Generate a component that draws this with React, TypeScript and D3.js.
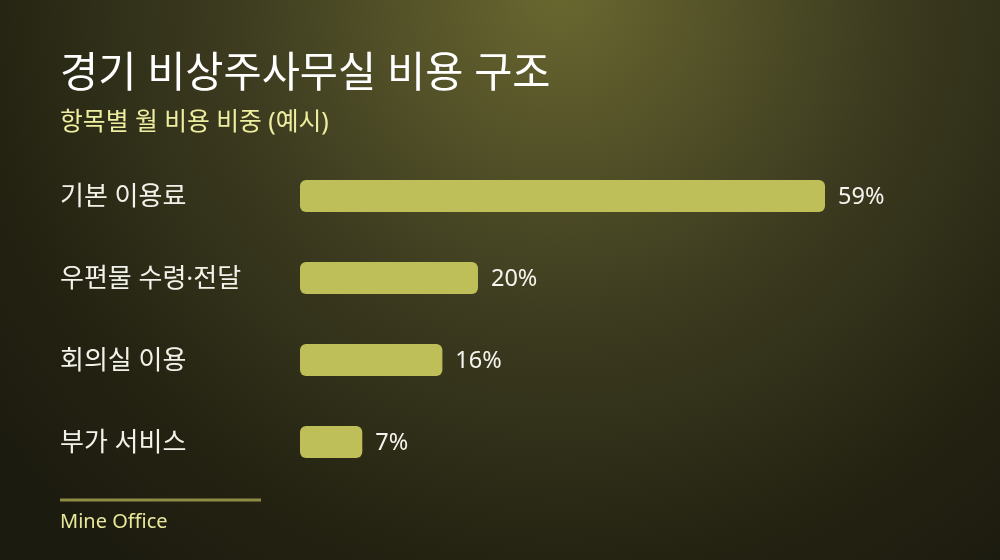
import React from "react";
import * as d3 from "d3";

const categories = ["기본 이용료", "우편물 수령·전달", "회의실 이용", "부가 서비스"];
const values = [59, 20, 16, 7];
const valueLabels = ["59%", "20%", "16%", "7%"];
const title = "경기 비상주사무실 비용 구조";
const subtitle = "항목별 월 비용 비중 (예시)";
const source = "Mine Office";

const W = 1000;
const H = 560;
const FONT = "'Noto Sans', 'Noto Sans CJK KR', sans-serif";

export default function App() {
  const x = d3.scaleLinear().domain([0, d3.max(values) as number]).range([300, 825]);
  const y = d3
    .scaleBand<string>()
    .domain(categories)
    .range([180, 180 + 82 * 4 - 50])
    .paddingInner(50 / 82)
    .paddingOuter(0);

  return (
    <svg
      width={W}
      height={H}
      viewBox={`0 0 ${W} ${H}`}
      style={{ position: "fixed", left: 0, top: 0, display: "block" }}
    >
      <defs>
        <radialGradient id="bg" cx="560" cy="-10" r="720" gradientUnits="userSpaceOnUse">
          <stop offset="0" stopColor="#6a6830" />
          <stop offset="0.45" stopColor="#3d3c20" />
          <stop offset="0.8" stopColor="#242312" />
          <stop offset="1" stopColor="#1c1b0f" />
        </radialGradient>
      </defs>
      <rect x={0} y={0} width={W} height={H} fill="url(#bg)" />

      <text x={60} y={87} fill="#ffffff" fontFamily={FONT} fontSize={41.5} fontWeight={400}>
        {title}
      </text>
      <text x={60} y={130} fill="#eeeea0" fontFamily={FONT} fontSize={24.8}>
        {subtitle}
      </text>

      {categories.map((c, i) => {
        const by = y(c) as number;
        const bh = y.bandwidth();
        const cy = by + bh / 2;
        return (
          <g key={c}>
            <text x={60} y={cy + 9} fill="#f2f2ea" fontFamily={FONT} fontSize={26}>
              {c}
            </text>
            <rect
              x={x(0)}
              y={by}
              width={x(values[i]) - x(0)}
              height={bh}
              rx={6}
              ry={6}
              fill="#bfbf5a"
            />
            <text
              x={x(values[i]) + 13}
              y={cy + 8}
              fill="#f5f5ee"
              fontFamily={FONT}
              fontSize={23.5}
            >
              {valueLabels[i]}
            </text>
          </g>
        );
      })}

      <line x1={60} x2={261} y1={500} y2={500} stroke="#8e8c45" strokeWidth={3} />
      <text x={60} y={528} fill="#e8e89a" fontFamily={FONT} fontSize={20}>
        {source}
      </text>
    </svg>
  );
}
